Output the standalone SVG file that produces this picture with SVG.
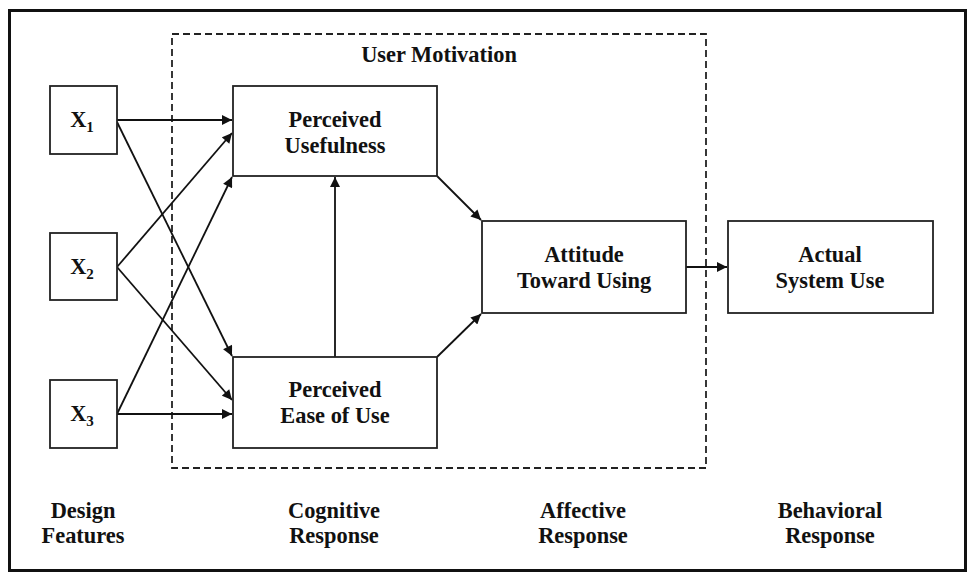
<svg xmlns="http://www.w3.org/2000/svg" width="973" height="576" viewBox="0 0 973 576">
  <style>
    .box { fill: #fff; stroke: #222; stroke-width: 1.8; }
    .frame { fill: #fff; stroke: #111; stroke-width: 3; }
    .zone { fill: none; stroke: #222; stroke-width: 1.8; stroke-dasharray: 7 4; }
    .lbl { font-family: "Liberation Serif", "Times New Roman", serif; font-weight: bold; font-size: 22.4px; fill: #111; text-anchor: middle; }
    .sub { font-size: 15px; }
    .edge { fill: none; stroke: #111; stroke-width: 1.8; }
  </style>
  <defs>
    <marker id="arrow" viewBox="0 0 10 10" refX="10" refY="5" markerWidth="12" markerHeight="10" markerUnits="userSpaceOnUse" orient="auto">
      <path d="M0,0 L10,5 L0,10 z" fill="#111"/>
    </marker>
  </defs>

  <rect class="frame" x="9.5" y="10.5" width="956" height="560"/>

  <!-- user motivation zone -->
  <g id="user-motivation">
    <rect class="zone" x="172" y="34" width="534" height="434"/>
    <text class="lbl" x="439" y="62">User Motivation</text>
  </g>

  <!-- connectors -->
  <g id="connectors">
    <line class="edge" x1="117" y1="120" x2="232" y2="120" marker-end="url(#arrow)"/>
    <line class="edge" x1="117" y1="122" x2="232" y2="356" marker-end="url(#arrow)"/>
    <line class="edge" x1="117" y1="267" x2="232" y2="133" marker-end="url(#arrow)"/>
    <line class="edge" x1="117" y1="267" x2="232" y2="400" marker-end="url(#arrow)"/>
    <line class="edge" x1="117" y1="414" x2="232" y2="177" marker-end="url(#arrow)"/>
    <line class="edge" x1="117" y1="414" x2="232" y2="414" marker-end="url(#arrow)"/>
    <line class="edge" x1="335" y1="357" x2="335" y2="177" marker-end="url(#arrow)"/>
    <line class="edge" x1="437" y1="176" x2="481" y2="220" marker-end="url(#arrow)"/>
    <line class="edge" x1="437" y1="357" x2="481" y2="314" marker-end="url(#arrow)"/>
    <line class="edge" x1="686" y1="267" x2="727" y2="267" marker-end="url(#arrow)"/>
  </g>

  <!-- design features -->
  <g id="x1">
    <rect class="box" x="50" y="86" width="67" height="68"/>
    <text class="lbl" x="82" y="127">X<tspan class="sub" dy="5">1</tspan></text>
  </g>
  <g id="x2">
    <rect class="box" x="50" y="233" width="67" height="67"/>
    <text class="lbl" x="82" y="274">X<tspan class="sub" dy="5">2</tspan></text>
  </g>
  <g id="x3">
    <rect class="box" x="50" y="380" width="67" height="68"/>
    <text class="lbl" x="82" y="421">X<tspan class="sub" dy="5">3</tspan></text>
  </g>

  <!-- cognitive response -->
  <g id="perceived-usefulness">
    <rect class="box" x="233" y="86" width="204" height="90"/>
    <text class="lbl" x="335" y="127">Perceived</text>
    <text class="lbl" x="335" y="153">Usefulness</text>
  </g>
  <g id="perceived-ease-of-use">
    <rect class="box" x="233" y="357" width="204" height="91"/>
    <text class="lbl" x="335" y="397">Perceived</text>
    <text class="lbl" x="335" y="423">Ease of Use</text>
  </g>

  <!-- affective response -->
  <g id="attitude">
    <rect class="box" x="482" y="221" width="204" height="92"/>
    <text class="lbl" x="584" y="262">Attitude</text>
    <text class="lbl" x="584" y="288">Toward Using</text>
  </g>

  <!-- behavioral response -->
  <g id="actual-use">
    <rect class="box" x="728" y="221" width="205" height="92"/>
    <text class="lbl" x="830" y="262">Actual</text>
    <text class="lbl" x="830" y="288">System Use</text>
  </g>

  <!-- stage captions -->
  <g id="captions">
    <text class="lbl" x="83" y="518">Design</text>
    <text class="lbl" x="83" y="543">Features</text>
    <text class="lbl" x="334" y="518">Cognitive</text>
    <text class="lbl" x="334" y="543">Response</text>
    <text class="lbl" x="583" y="518">Affective</text>
    <text class="lbl" x="583" y="543">Response</text>
    <text class="lbl" x="830" y="518">Behavioral</text>
    <text class="lbl" x="830" y="543">Response</text>
  </g>
</svg>
